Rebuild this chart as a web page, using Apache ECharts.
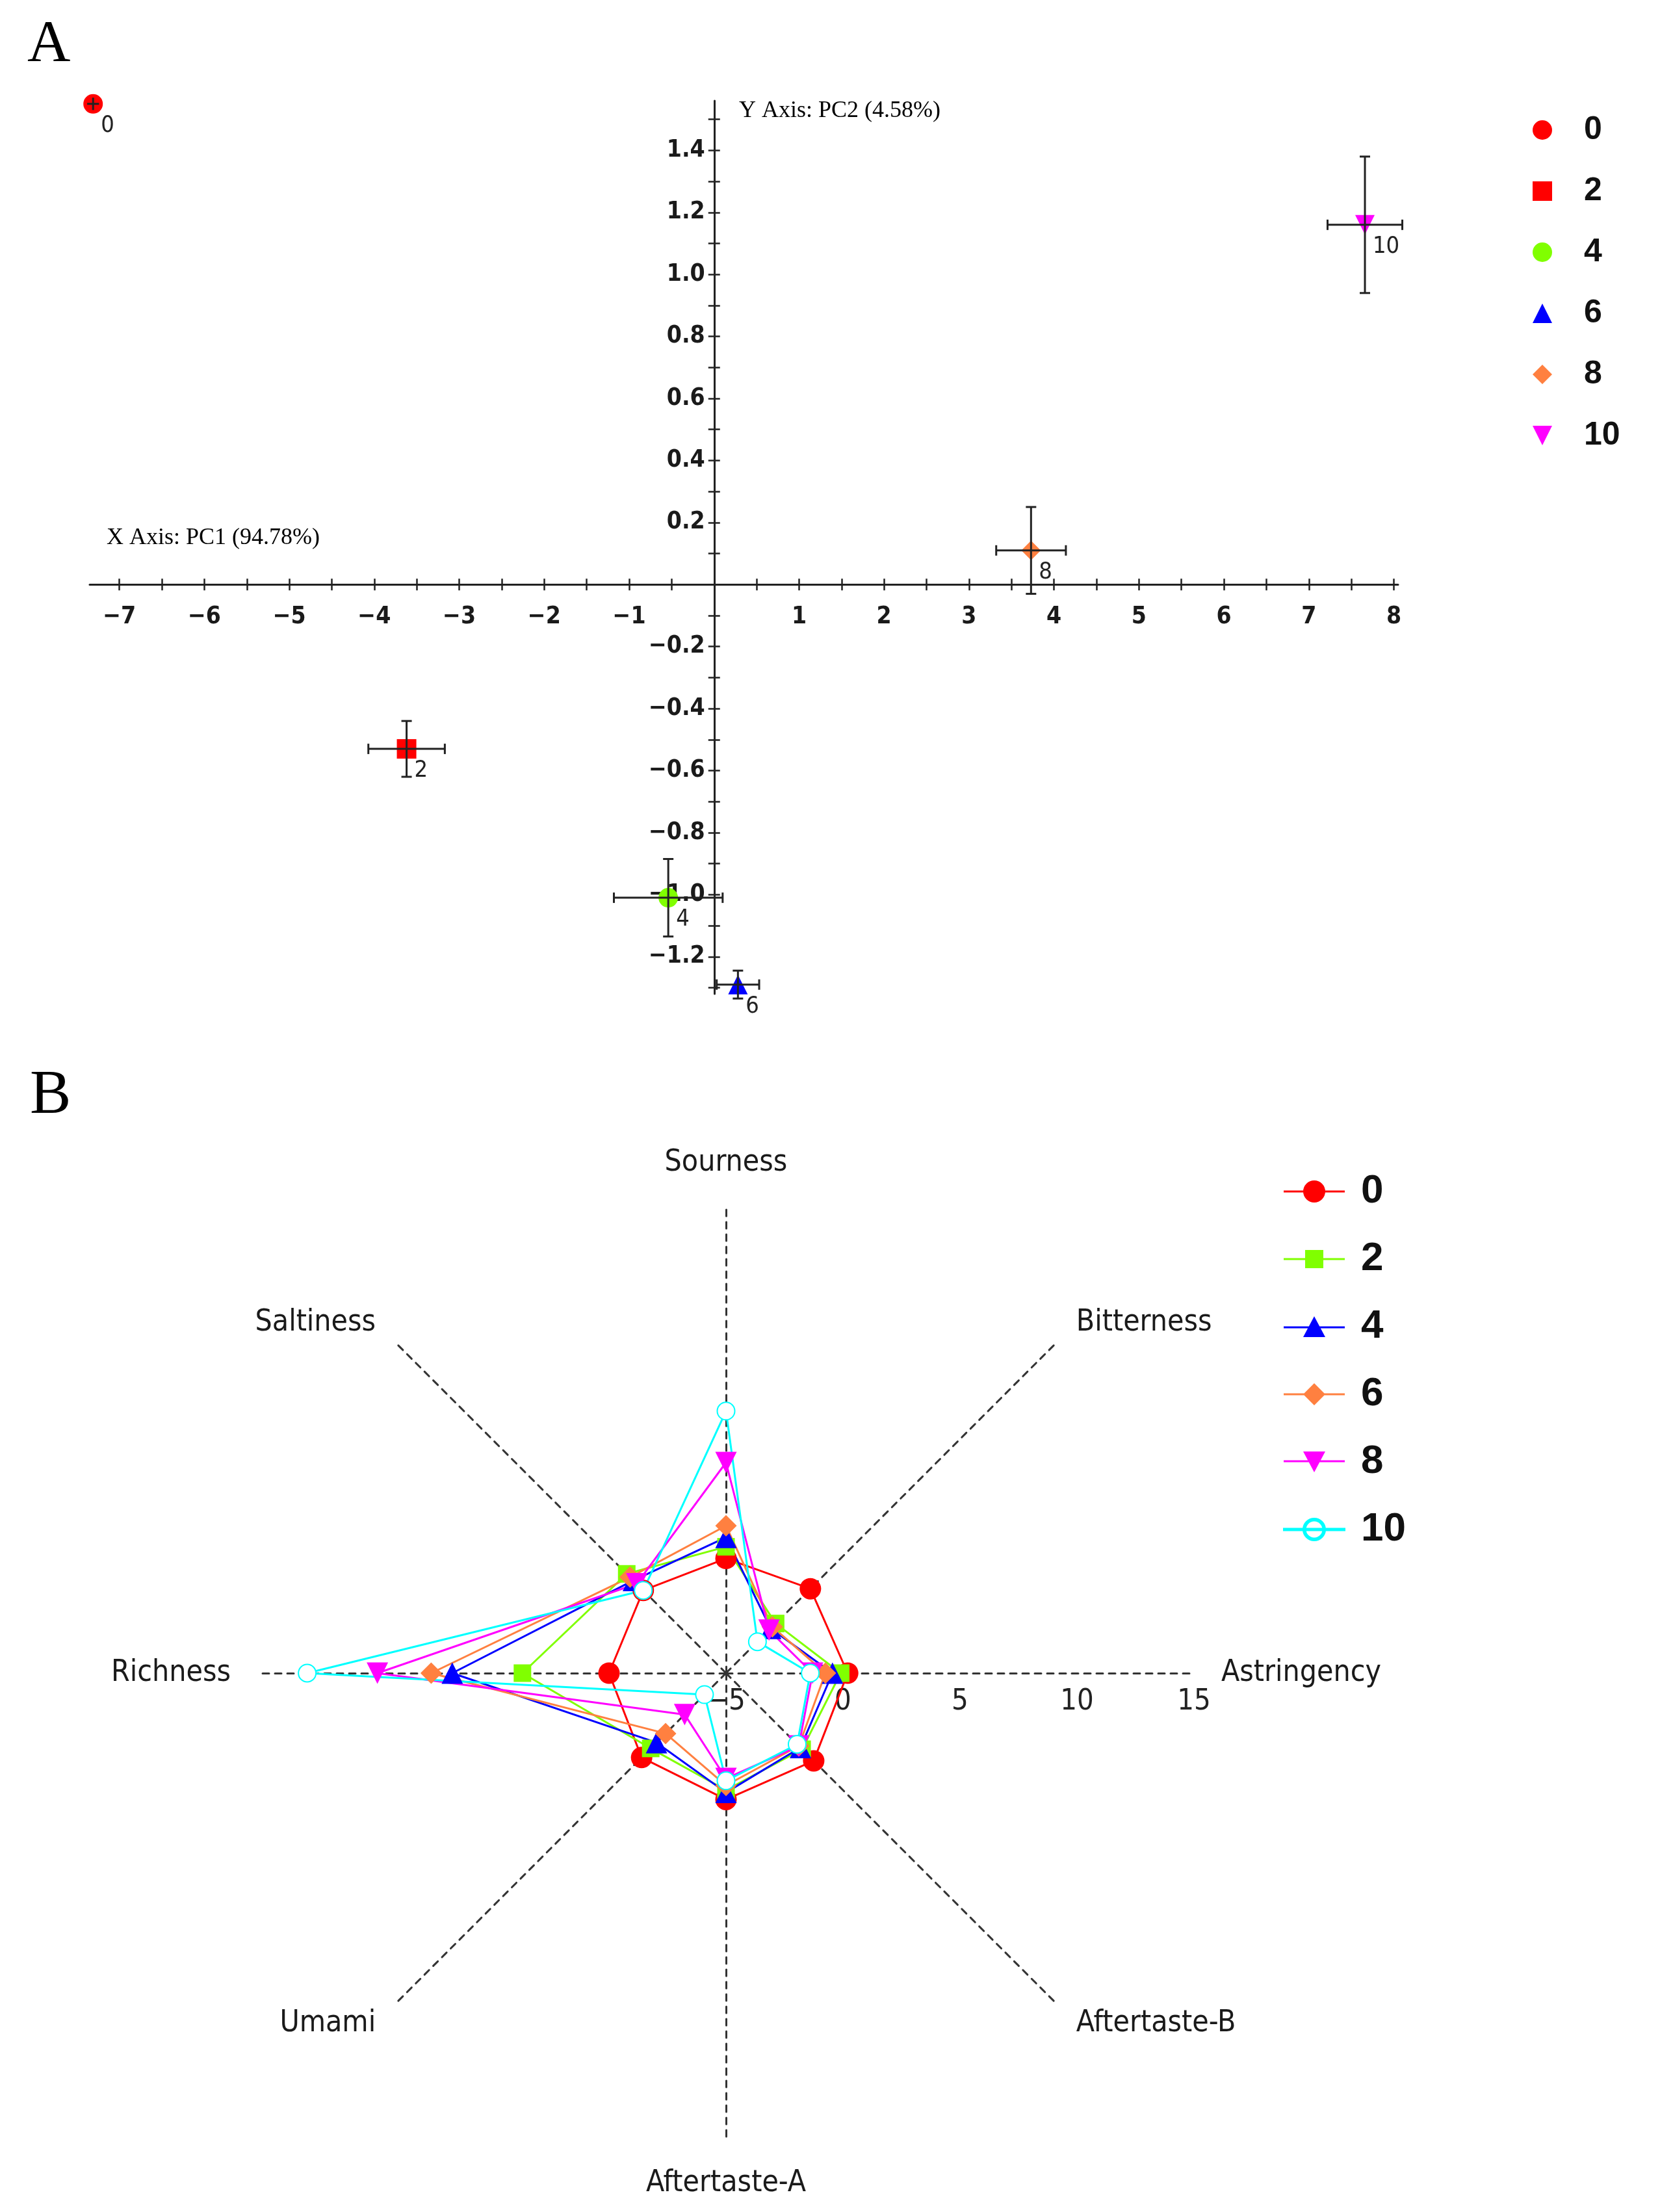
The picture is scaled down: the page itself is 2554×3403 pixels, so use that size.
<!DOCTYPE html>
<html>
<head>
<meta charset="utf-8">
<script src="https://cdn.jsdelivr.net/npm/echarts@6/dist/echarts.min.js"></script>
<style>
html,body{margin:0;padding:0;background:#fff;}
#c{width:2554px;height:3403px;}
</style>
</head>
<body>
<div id="c"></div>
<script>
// ---------- Panel A data (PCA scores, mean ± SD) ----------
const groups = ['0', '2', '4', '6', '8', '10'];
const pc1 = [-7.31, -3.62, -0.54, 0.28, 3.73, 7.66];
const pc2 = [1.55, -0.53, -1.01, -1.29, 0.11, 1.16];
const pc1Err = [0.07, 0.45, 0.64, 0.25, 0.41, 0.44];
const pc2Err = [0.02, 0.09, 0.125, 0.045, 0.14, 0.22];
const xTickLabels = [-7, -6, -5, -4, -3, -2, -1, 1, 2, 3, 4, 5, 6, 7, 8];
const yTickLabels = [-1.2, -1.0, -0.8, -0.6, -0.4, -0.2, 0.2, 0.4, 0.6, 0.8, 1.0, 1.2, 1.4];

// ---------- Panel B data (taste sensor radar) ----------
// order = ECharts radar order (counter-clockwise from top)
const tasteAxes = ['Sourness', 'Saltiness', 'Richness', 'Umami', 'Aftertaste-A', 'Aftertaste-B', 'Astringency', 'Bitterness'];
const taste0  = [-0.1, 0.0, 0.0, 0.1, 0.4, 0.3, 0.2, 0.1];
const taste2  = [0.4, 1.0, 3.7, -0.45, 0.0, -0.4, -0.1, -2.0];
const taste4  = [0.8, 0.6, 6.7, -0.8, 0.1, -0.5, -0.45, -2.3];
const taste6  = [1.3, 0.8, 7.6, -1.35, -0.2, -0.6, -0.75, -2.2];
const taste8  = [4.0, 0.4, 9.9, -2.5, -0.5, -0.6, -1.3, -2.4];
const taste10 = [6.2, 0.0, 12.9, -3.7, -0.4, -0.7, -1.4, -3.1];
const tasteValues = [taste0, taste2, taste4, taste6, taste8, taste10];
const radarTicks = [-5, 0, 5, 10, 15];

// ---------- ranges ----------
const X_MIN = -7.35, X_MAX = 8.05, Y_MIN = -1.32, Y_MAX = 1.56;

// ---------- styles ----------
const COND = "'DejaVu Sans Condensed','Liberation Sans Narrow','Liberation Sans',sans-serif";
const SERIF = "'Liberation Serif','Times New Roman',serif";
const SANS = "'Liberation Sans',Arial,sans-serif";
const DOWN = 'path://M0,0L20,0L10,20Z';
const colorsA = ['#FF0000', '#FF0000', '#80FF00', '#0000FF', '#FF8040', '#FF00FF'];
const symbolsA = ['circle', 'rect', 'circle', 'triangle', 'diamond', DOWN];
const colorsB = ['#FF0000', '#80FF00', '#0000FF', '#FF8040', '#FF00FF', '#00FFFF'];
const symbolsB = ['circle', 'rect', 'triangle', 'diamond', DOWN, 'emptyCircle'];
const symSizeB = [33, 27, 33, 33, 33, 27];
const LINE = 'M0,16.5H94V19.5H0Z ';
const iconsB = [
  'path://' + LINE + 'M30,18A17,17 0 1,1 64,18A17,17 0 1,1 30,18Z',
  'path://' + LINE + 'M33,4H61V32H33Z',
  'path://' + LINE + 'M47,1L64,33H30Z',
  'path://' + LINE + 'M47,1L64,18L47,35L30,18Z',
  'path://' + LINE + 'M30,3H64L47,35Z',
  'path://' + LINE + 'M30,18A17,17 0 1,1 64,18A17,17 0 1,1 30,18Z M33.5,18A13.5,13.5 0 1,0 60.5,18A13.5,13.5 0 1,0 33.5,18Z'
];

const minus = s => String(s).replace('-', '\u2212');
const xMinor = []; for (let v = -14; v <= 16; v++) xMinor.push(v / 2);
const yMinor = []; for (let v = -13; v <= 15; v++) yMinor.push(v / 10);

const axisLineStyle = { color: '#222', width: 3 };
const tickStyle = { color: '#222', width: 2.5 };
const tickFont = { fontSize: 37, fontFamily: COND, color: '#1a1a1a', fontWeight: 'bold' };

// plot geometry of panel A
const GL = 138, GT = 155, GW = 2013, GH = 1374;
const zeroX = GL + (0 - X_MIN) / (X_MAX - X_MIN) * GW;
const zeroY = GT + (Y_MAX - 0) / (Y_MAX - Y_MIN) * GH;

const chart = echarts.init(document.getElementById('c'));

const scatterSeries = groups.map((g, i) => ({
  name: 'a' + g,
  type: 'scatter',
  xAxisIndex: 0, yAxisIndex: 0,
  symbol: symbolsA[i],
  symbolSize: 30,
  itemStyle: { color: colorsA[i], opacity: 1 },
  label: {
    show: true, formatter: g, position: 'inside', align: 'left',
    offset: [12, 34], fontSize: 36, fontFamily: COND, color: '#222'
  },
  data: [[pc1[i], pc2[i]]],
  z: 2
}));

const errData = groups.map((g, i) => [pc1[i], pc2[i], pc1Err[i], pc2Err[i]]);

const hiddenX = (gi) => ({ gridIndex: gi, type: 'value', min: 0, max: 1, show: false });
const hiddenY = (gi) => ({ gridIndex: gi, type: 'value', min: 0, max: 1, show: false });

const option = {
  backgroundColor: '#fff',
  animation: false,
  grid: [
    { left: GL, top: GT, width: GW, height: GH, containLabel: false, outerBoundsMode: 'none' },
    { left: 1117, top: 2573, width: 720, height: 1, containLabel: false, outerBoundsMode: 'none' },
    { left: GL, top: GT, width: GW, height: zeroY - GT, containLabel: false, outerBoundsMode: 'none' },
    { left: zeroX, top: GT, width: GL + GW - zeroX, height: GH, containLabel: false, outerBoundsMode: 'none' }
  ],
  xAxis: [
    { gridIndex: 0, type: 'value', min: X_MIN, max: X_MAX, show: false },
    {
      gridIndex: 1, type: 'value', min: -5, max: 15, interval: 5, position: 'bottom',
      axisLine: { show: false }, axisTick: { show: false }, splitLine: { show: false },
      axisLabel: { show: true, customValues: radarTicks, formatter: v => minus(v), margin: 22,
                   fontSize: 45, fontFamily: COND, color: '#222' }
    },
    {
      gridIndex: 2, type: 'value', min: X_MIN, max: X_MAX, position: 'bottom',
      axisLine: { show: true, onZero: false, lineStyle: axisLineStyle },
      axisTick: { show: true, length: 9, customValues: xMinor, lineStyle: tickStyle },
      axisLabel: Object.assign({ show: true, customValues: xTickLabels, formatter: v => minus(v), margin: 32 }, tickFont),
      splitLine: { show: false }
    },
    {
      gridIndex: 2, type: 'value', min: X_MIN, max: X_MAX, position: 'bottom',
      axisLine: { show: false, onZero: false },
      axisTick: { show: true, inside: true, length: 9, customValues: xMinor, lineStyle: tickStyle },
      axisLabel: { show: false },
      splitLine: { show: false }
    },
    hiddenX(3)
  ],
  yAxis: [
    { gridIndex: 0, type: 'value', min: Y_MIN, max: Y_MAX, show: false },
    hiddenY(1),
    hiddenY(2),
    {
      gridIndex: 3, type: 'value', min: Y_MIN, max: Y_MAX, position: 'left',
      axisLine: { show: true, onZero: false, lineStyle: axisLineStyle },
      axisTick: { show: true, length: 9, customValues: yMinor, lineStyle: tickStyle },
      axisLabel: Object.assign({ show: true, customValues: yTickLabels, formatter: v => minus(Number(v).toFixed(1)), margin: 14 }, tickFont),
      splitLine: { show: false }
    },
    {
      gridIndex: 3, type: 'value', min: Y_MIN, max: Y_MAX, position: 'left',
      axisLine: { show: false, onZero: false },
      axisTick: { show: true, inside: true, length: 9, customValues: yMinor, lineStyle: tickStyle },
      axisLabel: { show: false },
      splitLine: { show: false }
    }
  ],
  radar: {
    center: [1117, 2574],
    radius: 720,
    startAngle: 90,
    shape: 'polygon',
    splitNumber: 4,
    nameGap: 42,
    indicator: tasteAxes.map(n => ({ name: n, min: -5, max: 15 })),
    axisName: { color: '#1a1a1a', fontSize: 46, fontFamily: COND },
    splitLine: { show: false },
    splitArea: { show: false },
    axisTick: { show: false },
    axisLabel: { show: false },
    axisLine: { show: true, lineStyle: { color: '#333', width: 3, type: [10, 9] } }
  },
  legend: [
    {
      orient: 'vertical', left: 2353, top: 170,
      itemWidth: 30, itemHeight: 30, itemGap: 44,
      data: groups.map((g, i) => ({ name: 'a' + g, icon: symbolsA[i] })),
      formatter: n => n.slice(1),
      textStyle: { fontSize: 50, lineHeight: 50, fontFamily: SANS, fontWeight: 'bold', color: '#111',
                   padding: [0, 0, 0, 44] },
      selectedMode: false
    },
    {
      orient: 'vertical', left: 1969, top: 1797,
      itemWidth: 94, itemHeight: 36, itemGap: 42,
      data: groups.map((g, i) => ({ name: 'b' + g, icon: iconsB[i] })),
      formatter: n => n.slice(1),
      textStyle: { fontSize: 62, lineHeight: 62, fontFamily: SANS, fontWeight: 'bold', color: '#111',
                   padding: [0, 0, 0, 20] },
      selectedMode: false
    }
  ],
  graphic: [
    { type: 'text', x: 42, y: 70, style: { text: 'A', fontSize: 92, fontFamily: SERIF, fill: '#000', align: 'left', verticalAlign: 'middle' } },
    { type: 'text', x: 46, y: 1687, style: { text: 'B', fontSize: 95, fontFamily: SERIF, fill: '#000', align: 'left', verticalAlign: 'middle' } },
    { type: 'text', x: 164, y: 828, style: { text: 'X Axis: PC1 (94.78%)', fontSize: 36, fontFamily: SERIF, fill: '#000', align: 'left', verticalAlign: 'middle' } },
    { type: 'text', x: 1137, y: 171, style: { text: 'Y Axis: PC2 (4.58%)', fontSize: 36, fontFamily: SERIF, fill: '#000', align: 'left', verticalAlign: 'middle' } }
  ],
  series: scatterSeries.concat([
    {
      name: 'errorbars',
      type: 'custom',
      xAxisIndex: 0, yAxisIndex: 0,
      z: 3,
      silent: true,
      data: errData,
      renderItem: function (params, api) {
        const x = api.value(0), y = api.value(1), ex = api.value(2), ey = api.value(3);
        const l = api.coord([x - ex, y]), r = api.coord([x + ex, y]);
        const t = api.coord([x, y + ey]), b = api.coord([x, y - ey]);
        const cap = 8;
        const st = { stroke: '#222', lineWidth: 3 };
        const children = [
          { type: 'line', shape: { x1: l[0], y1: l[1], x2: r[0], y2: r[1] }, style: st },
          { type: 'line', shape: { x1: t[0], y1: t[1], x2: b[0], y2: b[1] }, style: st }
        ];
        if (ex > 0.1) {
          children.push({ type: 'line', shape: { x1: l[0], y1: l[1] - cap, x2: l[0], y2: l[1] + cap }, style: st });
          children.push({ type: 'line', shape: { x1: r[0], y1: r[1] - cap, x2: r[0], y2: r[1] + cap }, style: st });
        }
        if (ey > 0.03) {
          children.push({ type: 'line', shape: { x1: t[0] - cap, y1: t[1], x2: t[0] + cap, y2: t[1] }, style: st });
          children.push({ type: 'line', shape: { x1: b[0] - cap, y1: b[1], x2: b[0] + cap, y2: b[1] }, style: st });
        }
        return { type: 'group', children: children };
      }
    },
    {
      name: 'taste',
      type: 'radar',
      z: 4,
      data: groups.map((g, i) => ({
        name: 'b' + g,
        value: tasteValues[i],
        symbol: symbolsB[i],
        symbolSize: symSizeB[i],
        itemStyle: { color: colorsB[i], borderColor: colorsB[i], borderWidth: i === 5 ? 3 : 0 },
        lineStyle: { color: colorsB[i], width: 3 }
      }))
    }
  ])
};

chart.setOption(option);
</script>
</body>
</html>
